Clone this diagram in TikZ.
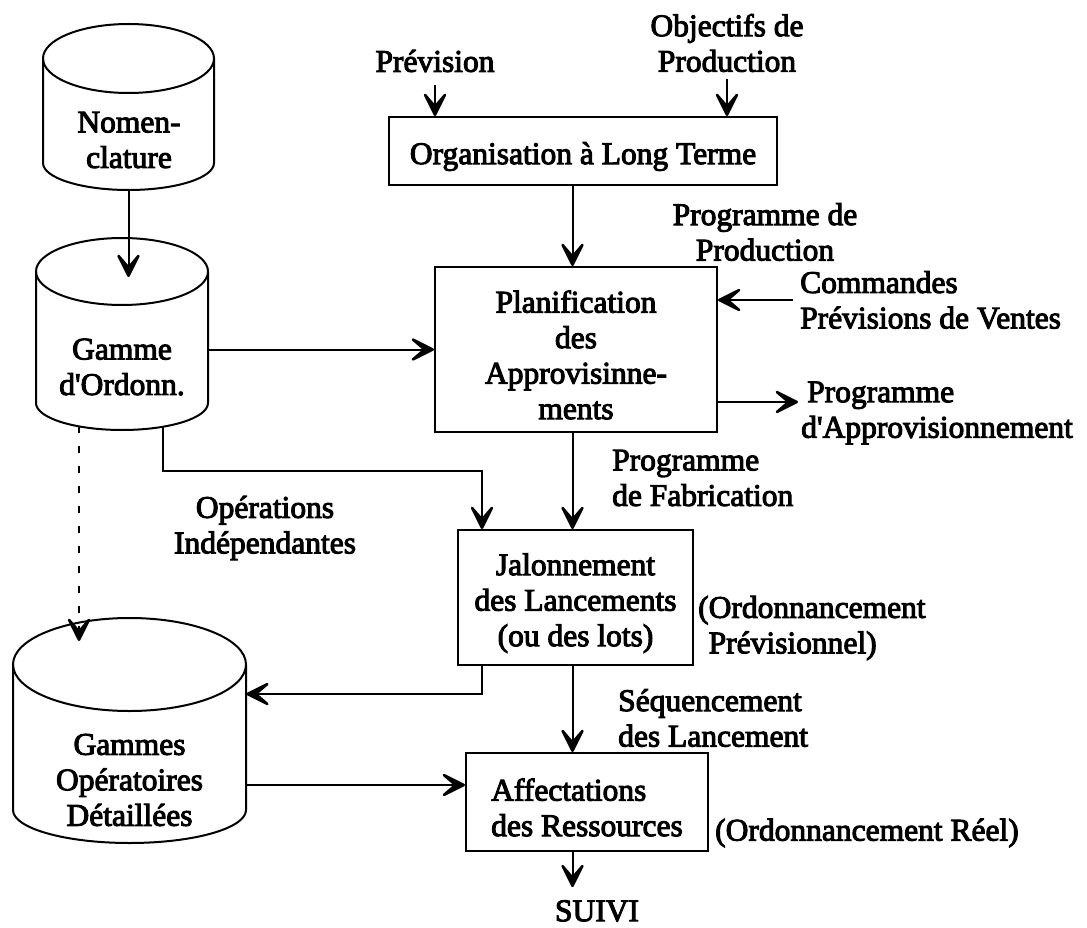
\documentclass[tikz,border=0pt]{standalone}
\usepackage{fontspec}
\setmainfont{Liberation Serif}[FakeBold=3.2]
\usetikzlibrary{arrows.meta}
\tikzset{
  procbox/.style={rectangle, draw=black, line width=2pt, align=center, inner sep=0pt},
  dbtext/.style={align=center, inner sep=0pt},
  lbl/.style={inner sep=0pt},
  arrow/.style={-{Stealth[length=31pt, width=31pt, inset=18pt, round, line width=2.5pt]}, line width=2pt},
  dasharrow/.style={arrow, dash pattern=on 7pt off 13pt},
  dbline/.style={line width=2pt}
}
% name, cx, y top centre, y bottom centre, rx, ry top, ry bottom
\newcommand{\datadrum}[7]{%
  \draw[dbline] (#2-#5,#3) -- (#2-#5,#4) arc[start angle=180, end angle=360, x radius=#5pt, y radius=#7pt] -- (#2+#5,#3);
  \draw[dbline] (#2,#3) ellipse[x radius=#5pt, y radius=#6pt];
  \coordinate (#1-top) at (#2,#3+#6);
  \coordinate (#1-bot) at (#2,#4-#7);
}
\newcommand{\lowtext}{\rule{0pt}{33pt}}

\begin{document}
\begin{tikzpicture}[x=1pt, y=1pt, font=\fontsize{31.5pt}{35.5pt}\selectfont]
  \useasboundingbox (0,0) rectangle (1087,-928);
  \coordinate (spine) at (572.5,0);

  % Fichiers
  \datadrum{nomencyl}{128.5}{-58.5}{-163}{85.5}{34.5}{27}
  \datadrum{gammecyl}{122}{-271.5}{-403}{86}{33.5}{27}
  \datadrum{gopcyl}{129.5}{-664.5}{-810}{116.5}{46.5}{33}
  \node[dbtext] (nomen) at (129,-140) {Nomen-\\clature};
  \node[dbtext, minimum width=172pt] (gamme) at (122,-367) {Gamme\\d\textquotesingle Ordonn.};
  \node[dbtext, minimum width=233pt] (gop) at (129.5,-780) {Gammes\\Opératoires\\Détaillées};

  % Fonctions
  \node[procbox, minimum width=388pt, minimum height=68pt] (org) at (583,-151) {\lowtext Organisation à Long Terme};
  \node[procbox, minimum width=282pt, minimum height=165pt] (planif) at (576,-349.5) {\lowtext Planification\\des\\Approvisinne-\\ments};
  \node[procbox, minimum width=235pt, minimum height=135pt] (jalon) at (575.5,-597.5) {\lowtext Jalonnement\\des Lancements\\(ou des lots)};
  \node[procbox, align=left, minimum width=242pt, minimum height=98pt] (affect) at (587,-802) {\lowtext Affectations\\des Ressources};

  % Flux
  \node[lbl] (prev) at (435,-61) {Prévision};
  \node[lbl, align=center] (obj) at (727,-43) {Objectifs de\\Production};
  \node[lbl, align=center] (progprod) at (765,-232) {Programme de\\Production};
  \node[lbl, align=left, anchor=west] (cmd) at (800,-300) {Commandes\\Prévisions de Ventes};
  \node[lbl, align=left, anchor=west] (progappro) at (801,-413) {\hspace*{6pt}Programme\\d\textquotesingle Approvisionnement};
  \node[lbl, align=left, anchor=west] (progfab) at (612,-478) {Programme\\de Fabrication};
  \node[lbl, align=center] (opind) at (265,-528) {Opérations\\Indépendantes};
  \node[lbl, align=left, anchor=west] (ordprev) at (698,-628) {(Ordonnancement\\\hphantom{(}Prévisionnel)};
  \node[lbl, align=left, anchor=west] (seq) at (618,-718) {Séquencement\\des Lancement};
  \node[lbl, anchor=west] (ordreel) at (715,-833) {(Ordonnancement Réel)};
  \node[lbl] (suivi) at (597,-911) {SUIVI};

  \draw[arrow] ([yshift=-13pt]prev.south) -- (prev.south |- org.north);
  \draw[arrow] ([yshift=-7pt]obj.south) -- (obj.south |- org.north);
  \draw[arrow] (org.south -| spine) -- (planif.north -| spine);
  \draw[arrow] ([xshift=-7pt]cmd.west) -- (cmd.west -| planif.east);
  \draw[arrow] ([yshift=11pt]progappro.west -| planif.east) -- ([xshift=-3pt,yshift=11pt]progappro.west);
  \draw[arrow] (gamme.east |- planif.west) -- (planif.west);
  \draw[arrow] (planif.south -| spine) -- (jalon.north -| spine);
  \draw[arrow] (nomencyl-bot) -- ++(0,-87);

  \coordinate (opsplit) at (482,-471);
  \draw[arrow] ([xshift=41pt,yshift=3pt]gammecyl-bot) |- (opsplit) -- (opsplit |- jalon.north);
  \draw[dasharrow] ([xshift=-43pt,yshift=4pt]gammecyl-bot) -- ++(0,-215);

  \coordinate (retour) at (482,-694);
  \draw[arrow] (jalon.south -| retour) -- (retour) -- (retour -| gop.east);
  \draw[arrow] ([yshift=17pt]affect.west -| gop.east) -- ([yshift=17pt]affect.west);
  \draw[arrow] (jalon.south -| spine) -- (affect.north -| spine);
  \draw[arrow] (affect.south -| spine) -- ([yshift=13pt]suivi.north -| spine);
\end{tikzpicture}
\end{document}
